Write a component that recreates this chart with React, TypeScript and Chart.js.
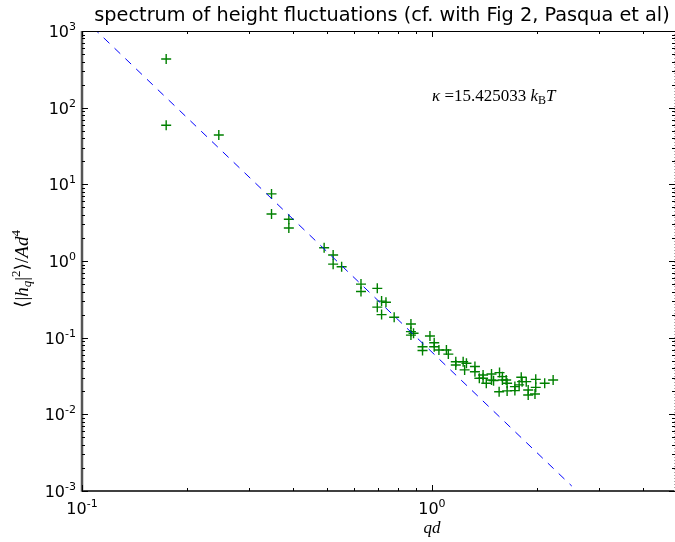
import React, { useEffect, useRef } from "react";
import { Chart, registerables } from "chart.js";

Chart.register(...registerables);

// ---------- data ----------
const qd: number[] = [
  0.174, 0.174, 0.246, 0.348, 0.348, 0.39, 0.39, 0.492, 0.522, 0.522,
  0.552, 0.627, 0.627, 0.698, 0.718, 0.739, 0.698, 0.718, 0.78, 0.871,
  0.871, 0.886, 0.871, 0.987, 1.015, 1.015, 0.94, 0.94, 1.047, 1.1,
  1.114, 1.17, 1.17, 1.228, 1.255, 1.24, 1.327, 1.327, 1.4, 1.4,
  1.366, 1.48, 1.48, 1.43, 1.5, 1.56, 1.59, 1.59, 1.63, 1.64,
  1.556, 1.64, 1.726, 1.726, 1.8, 1.81, 1.775, 1.86, 1.884, 1.884,
  1.98, 1.98, 1.97, 2.1, 2.22,
];
const spectrum: number[] = [
  431, 59, 44, 7.5, 4.1, 3.5, 2.7, 1.49, 1.2, 0.91,
  0.84, 0.5, 0.4, 0.44, 0.3, 0.29, 0.25, 0.2, 0.185, 0.151,
  0.12, 0.114, 0.108, 0.105, 0.086, 0.076, 0.076, 0.068, 0.069, 0.069,
  0.061, 0.0486, 0.044, 0.0486, 0.0463, 0.038, 0.042, 0.036, 0.0326, 0.0295,
  0.0295, 0.0336, 0.028, 0.0254, 0.0275, 0.035, 0.031, 0.028, 0.028, 0.0254,
  0.0197, 0.0202, 0.023, 0.0204, 0.0304, 0.0267, 0.0242, 0.0267, 0.0208, 0.0179,
  0.0286, 0.0225, 0.0184, 0.0254, 0.028,
];
const fitQd: number[] = [0.1, 2.51];
const fitSpectrum: number[] = [1520, 0.00116];

const xMin = 0.1;
const xMax = 4.95;
const yMin = 0.001;
const yMax = 1000;

const xMajorTicks: number[] = [0.1, 1];
const xMajorExponents: string[] = ["-1", "0"];
const xMinorTicks: number[] = [0.2, 0.3, 0.4, 0.5, 0.6, 0.7, 0.8, 0.9, 2, 3, 4];
const yMajorTicks: number[] = [0.001, 0.01, 0.1, 1, 10, 100, 1000];
const yMajorExponents: string[] = ["-3", "-2", "-1", "0", "1", "2", "3"];
const yMinorMultipliers: number[] = [2, 3, 4, 5, 6, 7, 8, 9];

const titleText = "spectrum of height fluctuations (cf. with Fig 2, Pasqua et al)";
const kappaText = "15.425033";

const SANS = '"DejaVu Sans", sans-serif';
const SERIF = '"Liberation Serif", "DejaVu Serif", serif';

function drawPow(
  ctx: CanvasRenderingContext2D,
  exp: string,
  x: number,
  yCenter: number,
  align: "right" | "center"
) {
  ctx.textAlign = "left";
  ctx.textBaseline = "alphabetic";
  ctx.font = `16px ${SANS}`;
  const wMain = ctx.measureText("10").width;
  ctx.font = `11px ${SANS}`;
  const wSup = ctx.measureText(exp).width;
  const total = wMain + wSup;
  const start = align === "right" ? x - total : x - total / 2;
  const base = yCenter + 6;
  ctx.font = `16px ${SANS}`;
  ctx.fillText("10", start, base);
  ctx.font = `11px ${SANS}`;
  ctx.fillText(exp, start + wMain, base - 7);
}

const mplPlugin = {
  id: "mplAxes",
  afterDatasetsDraw(chart: any) {
    const { ctx, chartArea: a } = chart;
    const xs = chart.scales.x;
    const ys = chart.scales.y;
    ctx.save();
    const seg = (x1: number, y1: number, x2: number, y2: number) => {
      ctx.beginPath();
      ctx.moveTo(x1, y1);
      ctx.lineTo(x2, y2);
      ctx.stroke();
    };
    // spines
    ctx.strokeStyle = "#000";
    ctx.lineWidth = 1;
    seg(a.left, a.top + 0.5, a.right, a.top + 0.5);
    ctx.lineWidth = 1.5;
    seg(a.left, a.bottom, a.right, a.bottom);
    ctx.strokeStyle = "#555";
    ctx.lineWidth = 2.5;
    seg(a.left, a.top, a.left, a.bottom + 0.75);
    ctx.strokeStyle = "#aaa";
    ctx.lineWidth = 1;
    ctx.setLineDash([1, 2]);
    seg(a.right - 0.5, a.top, a.right - 0.5, a.bottom);
    ctx.setLineDash([]);

    // ticks
    ctx.strokeStyle = "#000";
    ctx.lineWidth = 1;
    const xTick = (v: number, len: number) => {
      const px = Math.round(xs.getPixelForValue(v)) + 0.5;
      seg(px, a.bottom, px, a.bottom - len);
      seg(px, a.top, px, a.top + len);
    };
    const yTick = (v: number, len: number) => {
      const py = Math.round(ys.getPixelForValue(v)) + 0.5;
      seg(a.left, py, a.left + len, py);
      seg(a.right, py, a.right - len, py);
    };
    xMajorTicks.forEach((v) => xTick(v, 6));
    xMinorTicks.forEach((v) => xTick(v, 3));
    yMajorTicks.forEach((v) => yTick(v, 6));
    yMajorTicks.slice(0, -1).forEach((v) =>
      yMinorMultipliers.forEach((m) => yTick(v * m, 3))
    );

    // tick labels
    ctx.fillStyle = "#000";
    xMajorTicks.forEach((v, i) => {
      drawPow(ctx, xMajorExponents[i], xs.getPixelForValue(v), 508, "center");
    });
    yMajorTicks.forEach((v, i) => {
      drawPow(ctx, yMajorExponents[i], 76, ys.getPixelForValue(v), "right");
    });

    // title
    ctx.font = `19.3px ${SANS}`;
    ctx.textAlign = "center";
    ctx.textBaseline = "alphabetic";
    ctx.fillText(titleText, 382, 21);

    // x label
    ctx.font = `italic 17px ${SERIF}`;
    ctx.fillText("qd", xs.getPixelForValue(1), 533);

    // y label (rotated)
    ctx.save();
    ctx.translate(28, 269);
    ctx.rotate(-Math.PI / 2);
    const parts: [string, string, number][] = [
      ["\u27E8|", `19px ${SERIF}`, 0],
      ["h", `italic 19px ${SERIF}`, 0],
      ["q", `italic 13px ${SERIF}`, 3],
      ["|", `19px ${SERIF}`, 0],
      ["2", `13px ${SERIF}`, -8],
      ["\u27E9/", `19px ${SERIF}`, 0],
      ["A", `italic 19px ${SERIF}`, 0],
      ["d", `italic 19px ${SERIF}`, 0],
      ["4", `13px ${SERIF}`, -8],
    ];
    let tw = 0;
    parts.forEach(([t, f]) => {
      ctx.font = f;
      tw += ctx.measureText(t).width;
    });
    let cx = -tw / 2;
    ctx.textAlign = "left";
    parts.forEach(([t, f, dy]) => {
      ctx.font = f;
      ctx.fillText(t, cx, dy);
      cx += ctx.measureText(t).width;
    });
    ctx.restore();

    // kappa annotation
    const kParts: [string, string, number][] = [
      ["\u03BA", `italic 17px ${SERIF}`, 0],
      [" =", `17px ${SERIF}`, 0],
      [kappaText + " ", `17px ${SERIF}`, 0],
      ["k", `italic 17px ${SERIF}`, 0],
      ["B", `12px ${SERIF}`, 3],
      ["T", `italic 17px ${SERIF}`, 0],
    ];
    let kx = 432;
    ctx.textAlign = "left";
    kParts.forEach(([t, f, dy]) => {
      ctx.font = f;
      ctx.fillText(t, kx, 101 + dy);
      kx += ctx.measureText(t).width;
    });

    ctx.restore();
  },
};

export default function App() {
  const ref = useRef<HTMLCanvasElement | null>(null);
  useEffect(() => {
    if (!ref.current) return;
    const points = qd.map((q, i) => ({ x: q, y: spectrum[i] }));
    const fit = fitQd.map((q, i) => ({ x: q, y: fitSpectrum[i] }));
    const chart = new Chart(ref.current, {
      type: "scatter",
      data: {
        datasets: [
          {
            type: "line",
            data: fit,
            borderColor: "#0000ff",
            borderWidth: 1,
            borderDash: [8, 7],
            pointRadius: 0,
            fill: false,
          } as any,
          {
            data: points,
            pointStyle: "cross",
            pointRadius: 5,
            pointBorderColor: "#008000",
            pointBackgroundColor: "#008000",
            pointBorderWidth: 1.4,
          } as any,
        ],
      },
      options: {
        animation: false,
        responsive: false,
        events: [],
        layout: { autoPadding: false, padding: { left: 82, top: 31, right: 0, bottom: 51 } },
        plugins: {
          legend: { display: false },
          tooltip: { enabled: false },
          title: { display: false },
        },
        scales: {
          x: { type: "logarithmic", min: xMin, max: xMax, display: false },
          y: { type: "logarithmic", min: yMin, max: yMax, display: false },
        },
      },
      plugins: [mplPlugin],
    });
    return () => chart.destroy();
  }, []);
  return (
    <div style={{ position: "fixed", left: 0, top: 0, width: 675, height: 542, background: "#fff" }}>
      <canvas ref={ref} width={675} height={542} style={{ display: "block" }} />
    </div>
  );
}
